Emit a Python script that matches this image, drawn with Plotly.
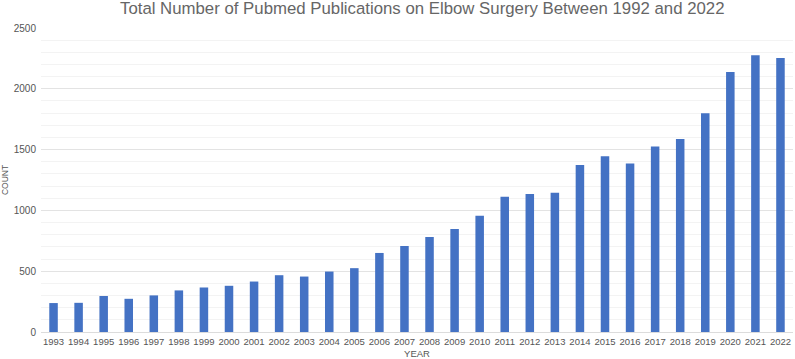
import plotly.graph_objects as go

years = [str(y) for y in range(1993, 2023)]
counts = [238, 240, 296, 273, 301, 342, 366, 380, 415, 467, 456, 497, 525, 650,
          707, 781, 847, 956, 1112, 1134, 1145, 1374, 1446, 1385, 1525, 1588,
          1798, 2139, 2276, 2254]

fig = go.Figure(go.Bar(x=years, y=counts, marker=dict(color="#4472C4", line=dict(width=0))))

fig.update_layout(
    width=795, height=359,
    margin=dict(l=41, r=2, t=28, b=27, autoexpand=False),
    paper_bgcolor="white", plot_bgcolor="white",
    bargap=0.66,
    font=dict(family="Liberation Sans, Arial, sans-serif", color="#555555", size=9),
    title=dict(text="Total Number of Pubmed Publications on Elbow Surgery Between 1992 and 2022",
               xref="paper", x=0.507, xanchor="center", y=0.993, yanchor="top",
               font=dict(size=16.8, color="#666666")),
    showlegend=False,
)
fig.update_xaxes(
    type="category", showgrid=False, showline=False, ticks="",
    tickfont=dict(size=9.5, color="#555555"), ticklabelstandoff=2,
    title=dict(text="YEAR", font=dict(size=9.5, color="#555555"), standoff=5),
)
fig.update_yaxes(
    range=[0, 2500], dtick=500, showgrid=True, gridcolor="#e3e3e3", gridwidth=1,
    zeroline=True, zerolinecolor="#dcdcdc", zerolinewidth=1,
    minor=dict(dtick=100, showgrid=True, gridcolor="#f3f3f3", gridwidth=1),
    tickfont=dict(size=10, color="#555555"), ticklabelstandoff=4,
    title=dict(text="COUNT", font=dict(size=8.5, color="#555555"), standoff=3),
)

fig.write_html("out.html", config={"displayModeBar": False},
               post_script="document.body.style.margin='0';document.body.style.overflow='hidden';")
